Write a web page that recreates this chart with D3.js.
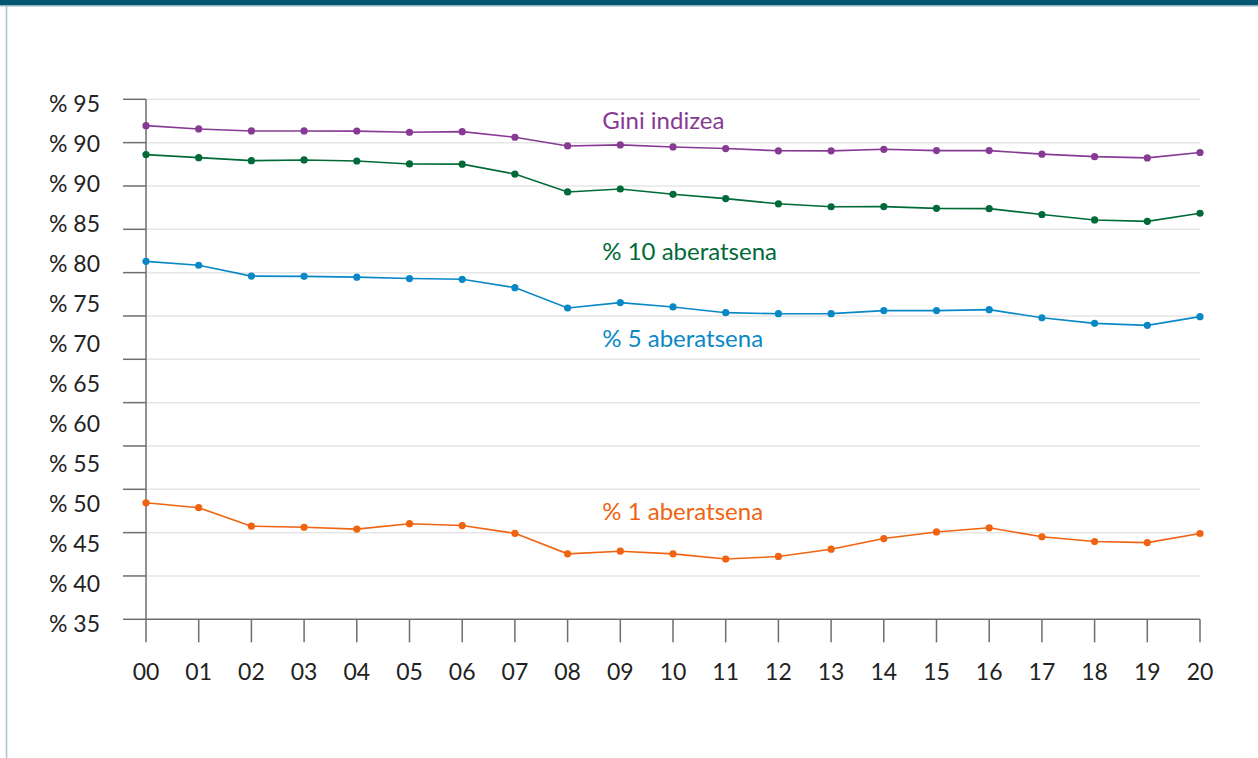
<!DOCTYPE html>
<html>
<head>
<meta charset="utf-8">
<script src="https://cdn.jsdelivr.net/npm/d3@7"></script>
<style>
  html, body { margin: 0; padding: 0; background: #fff; }
  svg { display: block; }
  text { font-family: Lato, "Noto Sans", sans-serif; }
</style>
</head>
<body>
<svg id="chart" width="1258" height="758"></svg>
<script>
const years = ["00","01","02","03","04","05","06","07","08","09","10","11","12","13","14","15","16","17","18","19","20"];
const gini = [91.96,91.58,91.35,91.35,91.33,91.2,91.27,90.62,89.62,89.74,89.5,89.32,89.06,89.05,89.23,89.08,89.08,88.67,88.38,88.24,88.86];
const top10 = [88.62,88.27,87.92,88.0,87.88,87.54,87.52,86.37,84.31,84.65,84.04,83.54,82.94,82.6,82.62,82.42,82.38,81.71,81.08,80.92,81.85];
const top5 = [76.3,75.85,74.6,74.57,74.48,74.32,74.23,73.27,70.92,71.54,71.04,70.38,70.26,70.27,70.62,70.62,70.73,69.79,69.15,68.92,69.92];
const top1 = [48.45,47.88,45.74,45.62,45.41,46.03,45.82,44.92,42.55,42.86,42.55,41.95,42.25,43.09,44.32,45.08,45.56,44.52,43.97,43.85,44.9];
const gridValues = [35,40,45,50,55,60,65,70,75,80,85,90,95];
const yTickLabels = ["% 95","% 90","% 90","% 85","% 80","% 75","% 70","% 65","% 60","% 55","% 50","% 45","% 40","% 35"];
const seriesNames = ["Gini indizea","% 10 aberatsena","% 5 aberatsena","% 1 aberatsena"];
const seriesColors = ["#873a93","#006a38","#0a88c6","#ef6311"];
const seriesData = [gini, top10, top5, top1];
const labelAnchor = [91.57, 76.46, 66.45, 46.46];

const svg = d3.select("#chart");

// frame decoration
svg.append("rect").attr("x",0).attr("y",0).attr("width",1258).attr("height",5).attr("fill","#03566f");
svg.append("rect").attr("x",0).attr("y",5).attr("width",1258).attr("height",1.5).attr("fill","#8fb3c4");
svg.append("line").attr("x1",6.5).attr("x2",6.5).attr("y1",6).attr("y2",758)
  .attr("stroke","#a9c3d1").attr("stroke-width",1.5);

const x = d3.scalePoint().domain(years).range([146, 1200]);
const y = d3.scaleLinear().domain([35, 95]).range([619.3, 99.3]);
const yLab = d3.scalePoint().domain(d3.range(yTickLabels.length)).range([y(95), y(35)]);

// gridlines
svg.append("g").selectAll("line").data(gridValues.filter(v => v !== 35)).join("line")
  .attr("x1", x(years[0])).attr("x2", x(years[years.length-1]))
  .attr("y1", d => y(d)).attr("y2", d => y(d))
  .attr("stroke", "#e6e6e6").attr("stroke-width", 1.5);

const axisColor = "#6e6e6e";
// y ticks
svg.append("g").selectAll("line").data(gridValues).join("line")
  .attr("x1", x(years[0]) - 23).attr("x2", x(years[0]))
  .attr("y1", d => y(d)).attr("y2", d => y(d))
  .attr("stroke", axisColor).attr("stroke-width", 1.5);
// x ticks
svg.append("g").selectAll("line").data(years).join("line")
  .attr("x1", d => x(d)).attr("x2", d => x(d))
  .attr("y1", y(35)).attr("y2", y(35) + 23)
  .attr("stroke", axisColor).attr("stroke-width", 1.5);
// axis lines
svg.append("line").attr("x1", x(years[0])).attr("x2", x(years[0]))
  .attr("y1", y(95)).attr("y2", y(35)).attr("stroke", axisColor).attr("stroke-width", 1.5);
svg.append("line").attr("x1", x(years[0])).attr("x2", x(years[years.length-1]))
  .attr("y1", y(35)).attr("y2", y(35)).attr("stroke", axisColor).attr("stroke-width", 1.5);

// y labels
svg.append("g").selectAll("text").data(yTickLabels).join("text")
  .attr("x", 100).attr("y", (d,i) => yLab(i) + 4.4).attr("dy", "0.35em")
  .attr("text-anchor", "end").attr("font-size", 23).attr("fill", "#222")
  .text(d => d);
// x labels
svg.append("g").selectAll("text").data(years).join("text")
  .attr("x", d => x(d)).attr("y", 680)
  .attr("text-anchor", "middle").attr("font-size", 23).attr("fill", "#222")
  .text(d => d);

// series
const line = d3.line().x((d,i) => x(years[i])).y(d => y(d));
seriesData.forEach((s, k) => {
  const g = svg.append("g");
  g.append("path").datum(s).attr("d", line).attr("fill", "none")
    .attr("stroke", seriesColors[k]).attr("stroke-width", 1.6);
  g.selectAll("circle").data(s).join("circle")
    .attr("cx", (d,i) => x(years[i])).attr("cy", d => y(d)).attr("r", 3.6)
    .attr("fill", seriesColors[k]);
  g.append("text").attr("x", x("09") - 18).attr("y", y(labelAnchor[k]))
    .attr("font-size", 24).attr("fill", seriesColors[k]).text(seriesNames[k]);
});
</script>
</body>
</html>
